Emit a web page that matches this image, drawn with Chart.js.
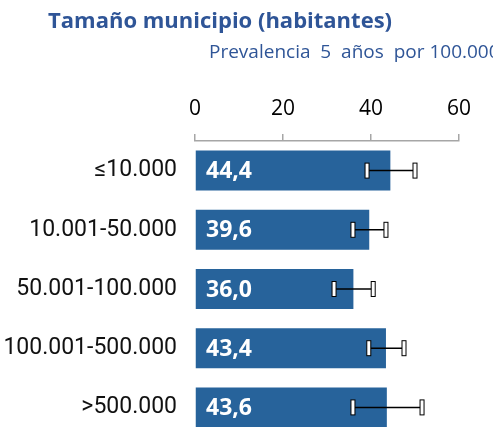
<!DOCTYPE html>
<html>
<head>
<meta charset="utf-8">
<script src="https://cdn.jsdelivr.net/npm/chart.js@4"></script>
<style>
  html, body { margin: 0; padding: 0; background: #fff; overflow: hidden; }
  #wrap { position: relative; width: 493px; height: 427px; overflow: hidden; }
  #chart { position: absolute; left: 0; top: 0; }
  .title { position: absolute; left: 48px; top: 4px; font: bold 22px "Open Sans"; color: #2f5597; white-space: nowrap; }
  .subtitle { position: absolute; left: 209px; top: 38px; font: 19px "Open Sans"; color: #2f5597; white-space: pre; }
</style>
</head>
<body>
<div id="wrap">
  <canvas id="chart" width="493" height="440"></canvas>
  <div class="title">Tamaño municipio (habitantes)</div>
  <div class="subtitle">Prevalencia  5  años  por 100.000</div>
</div>
<script>
// Data
const categories = ['≤10.000', '10.001-50.000', '50.001-100.000', '100.001-500.000', '>500.000'];
const prevalence = [44.4, 39.6, 36.0, 43.4, 43.6];
const ciLow = [39.1, 35.9, 31.6, 39.5, 35.9];
const ciHigh = [50.0, 43.4, 40.5, 47.5, 51.6];
const xTicks = [0, 20, 40, 60];

// value labels inside the bars
const valueLabels = {
    id: 'valueLabels',
    afterDatasetsDraw(chart) {
        const ctx = chart.ctx;
        const meta = chart.getDatasetMeta(0);
        const xScale = chart.scales.x;
        ctx.save();
        ctx.fillStyle = '#ffffff';
        ctx.font = 'bold 23px "Open Sans"';
        ctx.textBaseline = 'middle';
        meta.data.forEach((bar, i) => {
            ctx.fillText(prevalence[i].toFixed(1).replace('.', ','), xScale.getPixelForValue(0) + 11, bar.y + 1);
        });
        ctx.restore();
    }
};

// error bars
const errorBars = {
    id: 'errorBars',
    afterDatasetsDraw(chart) {
        const ctx = chart.ctx;
        const meta = chart.getDatasetMeta(0);
        const xScale = chart.scales.x;
        ctx.save();
        meta.data.forEach((bar, i) => {
            const x1 = xScale.getPixelForValue(ciLow[i]);
            const x2 = xScale.getPixelForValue(ciHigh[i]);
            const y = bar.y;
            ctx.strokeStyle = '#000';
            ctx.lineWidth = 1.5;
            ctx.beginPath();
            ctx.moveTo(x1, y);
            ctx.lineTo(x2, y);
            ctx.stroke();
            [x1, x2].forEach(x => {
                ctx.fillStyle = '#ffffff';
                ctx.fillRect(x - 2, y - 7.5, 4, 15);
                ctx.lineWidth = 1;
                ctx.strokeRect(x - 2, y - 7.5, 4, 15);
            });
        });
        ctx.restore();
    }
};

new Chart(document.getElementById('chart'), {
    type: 'bar',
    data: {
        labels: categories,
        datasets: [{
            data: prevalence,
            backgroundColor: '#27639b',
            borderWidth: 0,
            barPercentage: 0.676,
            categoryPercentage: 1
        }]
    },
    options: {
        indexAxis: 'y',
        responsive: false,
        animation: false,
        layout: { padding: { top: 0, right: 34, bottom: 3, left: 0 } },
        plugins: {
            legend: { display: false },
            tooltip: { enabled: false }
        },
        scales: {
            x: {
                position: 'top',
                min: 0,
                max: 60,
                afterBuildTicks: s => { s.ticks = xTicks.map(v => ({ value: v })); },
                afterFit: s => { s.height = 141; },
                grid: {
                    drawOnChartArea: false,
                    drawTicks: true,
                    tickLength: 7,
                    color: '#a6a6a6',
                    lineWidth: 1.5
                },
                border: { display: true, color: '#a6a6a6', width: 1.5 },
                ticks: {
                    color: '#000',
                    font: { family: 'Open Sans', size: 21 },
                    padding: 12
                }
            },
            y: {
                afterFit: s => {
                    s.width = 195;
                    s.paddingTop = 0;
                    s.paddingBottom = 0;
                },
                grid: { display: false },
                border: { display: false },
                ticks: {
                    color: '#111',
                    font: { family: 'Roboto', size: 23 },
                    padding: 10
                }
            }
        }
    },
    plugins: [valueLabels, errorBars]
});
</script>
</body>
</html>
